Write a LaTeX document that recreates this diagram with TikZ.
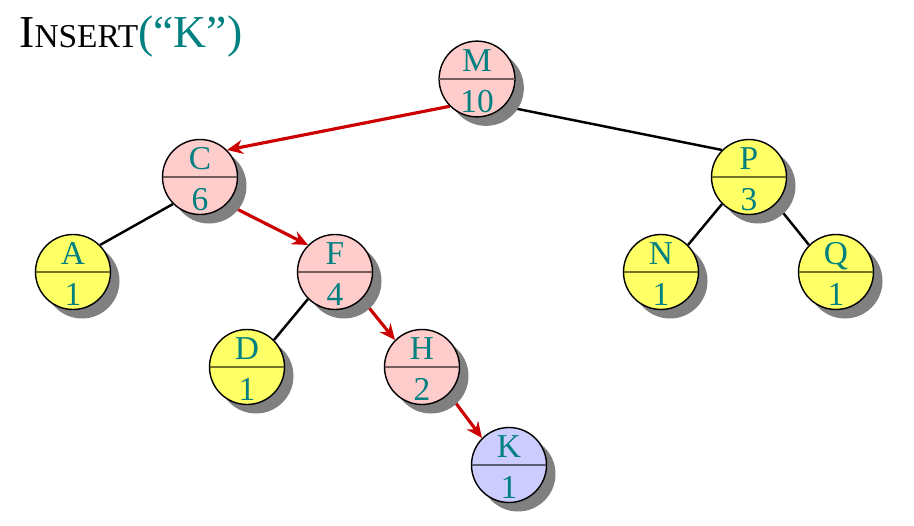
\documentclass[tikz,border=0pt]{standalone}
\usepackage{fontspec}
\setmainfont{Liberation Serif}
\usetikzlibrary{arrows.meta,shapes.multipart,shadows,backgrounds,calc}
\definecolor{keycol}{RGB}{0,128,128}
\definecolor{pathcol}{RGB}{204,0,0}
\definecolor{pinkf}{RGB}{255,204,204}
\definecolor{yelf}{RGB}{255,255,102}
\definecolor{bluef}{RGB}{204,204,255}
\newcommand{\upkey}[1]{#1\rule[-0.13cm]{0pt}{0pt}}
\newcommand{\lowcnt}[1]{\rule{0pt}{0.66cm}#1}

\begin{document}
\begin{tikzpicture}[
    tnode/.style={circle split,draw=black,line width=0.8pt,minimum size=1.5cm,
                  inner sep=0pt,font=\fontsize{19}{21}\selectfont,text=keycol,
                  drop shadow={shadow xshift=0.18cm,shadow yshift=-0.18cm,
                               fill=black!50,opacity=1}},
    onpath/.style={tnode,fill=pinkf},
    offpath/.style={tnode,fill=yelf},
    newkey/.style={tnode,fill=bluef},
    link/.style={line width=1.4pt,black},
    walk/.style={line width=1.8pt,pathcol,-{Stealth[length=9pt,width=8pt]}}]
  \useasboundingbox (0,0) rectangle (18.28,10.5);

  \node[anchor=base west,inner sep=0] (title) at (0.38,9.54)
    {\fontsize{26}{28}\selectfont I\fontsize{19}{21}\selectfont NSERT%
     \textcolor{keycol}{\fontsize{26}{28}\selectfont(``K'')}};

  % the tree
  \node[onpath]  (M) at (9.54,8.92) {\upkey{M} \nodepart{lower} \lowcnt{10}};
  \node[onpath]  (C) at (4.00,6.96) {\upkey{C} \nodepart{lower} \lowcnt{6}};
  \node[offpath] (P) at (14.98,6.96) {\upkey{P} \nodepart{lower} \lowcnt{3}};
  \node[offpath] (A) at (1.46,5.06) {\upkey{A} \nodepart{lower} \lowcnt{1}};
  \node[onpath]  (F) at (6.70,5.06) {\upkey{F} \nodepart{lower} \lowcnt{4}};
  \node[offpath] (N) at (13.22,5.06) {\upkey{N} \nodepart{lower} \lowcnt{1}};
  \node[offpath] (Q) at (16.72,5.06) {\upkey{Q} \nodepart{lower} \lowcnt{1}};
  \node[offpath] (D) at (4.94,3.16) {\upkey{D} \nodepart{lower} \lowcnt{1}};
  \node[onpath]  (H) at (8.44,3.16) {\upkey{H} \nodepart{lower} \lowcnt{2}};
  \node[newkey]  (K) at (10.18,1.20) {\upkey{K} \nodepart{lower} \lowcnt{1}};

  % dividers in a darker tone of the fill
  \foreach \n/\c in {M/pinkf,C/pinkf,F/pinkf,H/pinkf,P/yelf,A/yelf,
                     N/yelf,Q/yelf,D/yelf,K/bluef}
    \draw[\c!45!black,line width=0.8pt,shorten <=0.6pt,shorten >=0.6pt]
      (\n.west) -- (\n.east);

  \begin{scope}[on background layer]
    \draw[link] (M.-45) -- (P.135);
    \draw[link] (C.-135) -- (A.45);
    \draw[link] (F.-135) -- (D.45);
    \draw[link] (P.-135) -- (N.45);
    \draw[link] (P.-45) -- (Q.135);
    \draw[walk] (M.-135) -- (C.45);
    \draw[walk] (C.-45) -- (F.135);
    \draw[walk] (F.-45) -- (H.135);
    \draw[walk] (H.-45) -- (K.135);
  \end{scope}
\end{tikzpicture}
\end{document}
